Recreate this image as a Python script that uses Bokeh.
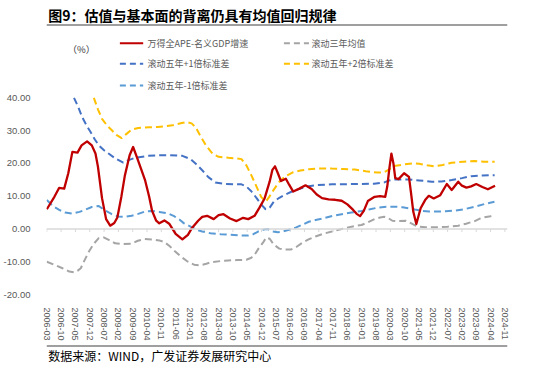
from bokeh.plotting import figure
from bokeh.layouts import column
from bokeh.models import (FixedTicker, NumeralTickFormatter, Span, ColumnDataSource, Range1d)
from bokeh.embed import file_html
from bokeh.resources import INLINE
from bokeh.core.properties import value

# ---------------- texts ----------------
title_text = "图9：估值与基本面的背离仍具有均值回归规律"
source_text = "数据来源：WIND，广发证券发展研究中心"
unit_text = "（%）"
series_names = ["万得全APE-名义GDP增速", "滚动三年均值", "滚动五年+1倍标准差",
                "滚动五年+2倍标准差", "滚动五年-1倍标准差"]
x_labels = ["2006-03", "2006-10", "2007-05", "2007-12", "2008-07", "2009-02", "2009-09",
            "2010-04", "2010-11", "2011-06", "2012-01", "2012-08", "2013-03", "2013-10",
            "2014-05", "2014-12", "2015-07", "2016-02", "2016-09", "2017-04", "2017-11",
            "2018-06", "2019-01", "2019-08", "2020-03", "2020-10", "2021-05", "2021-12",
            "2022-07", "2023-02", "2023-09", "2024-04", "2024-11"]
y_ticks = [-20, -10, 0, 10, 20, 30, 40]

# ---------------- data (x = months after 2006-03) ----------------
ape_m = [0, 3.7, 6, 8.5, 10.5, 12.5, 15, 17, 19.7, 22, 23.8, 25, 27, 29, 31, 33, 34.5, 36.5,
         38.2, 40.5, 42.2, 44, 46, 48, 50, 51.5, 53.5, 55, 57.5, 60, 63, 66.3, 69, 71, 74,
         76, 78.4, 81.6, 84, 86.4, 89.6, 92.8, 96, 98.5, 101.6, 104, 106.5, 109, 110.3,
         111.6, 113, 114.5, 116.9, 118.5, 120.5, 123.5, 126.5, 129.5, 132, 134.6, 137.8,
         141, 144.2, 147, 149.8, 151.5, 153.2, 155, 157, 160.3, 163, 165.5, 166.5, 167.5,
         168.5, 169.5, 170.4, 172, 174.7, 177.1, 178.3, 179.2, 180.7, 182.8, 185, 186.8,
         189.2, 192.4, 195.6, 198, 201.2, 203, 205.2, 207.5, 210, 213, 215.7, 219.2]
ape_v = [6.0, 9.8, 12.5, 12.3, 17.0, 23.5, 23.3, 25.5, 26.7, 25.5, 23.0, 19.0, 9.4, 3.0, 1.0,
         1.8, 3.5, 10.0, 16.4, 22.5, 25.0, 22.0, 18.5, 15.0, 10.0, 5.5, 2.5, 1.7, 2.6, 1.5,
         -1.5, -3.2, -1.8, 0.3, 2.5, 3.7, 4.0, 3.0, 4.2, 4.5, 3.2, 2.4, 3.4, 3.0, 4.0, 6.5,
         9.3, 14.5, 18.0, 19.1, 17.0, 14.6, 15.3, 13.5, 11.4, 12.3, 13.3, 12.2, 10.5, 9.4,
         9.0, 8.9, 8.6, 7.5, 5.8, 4.6, 3.9, 5.5, 8.5, 9.8, 10.0, 9.8, 13.0, 18.4, 23.0, 20.0,
         15.5, 15.2, 17.0, 15.9, 10.0, 5.3, 1.5, 6.3, 8.8, 10.1, 9.3, 10.3, 13.7, 11.9, 14.4,
         13.2, 12.6, 13.0, 13.7, 12.8, 12.1, 13.2]

mean3_m = [0, 4, 7.7, 11, 13.3, 15, 16.6, 18.5, 20.6, 23, 25.4, 27.8, 30.5, 33.4, 37, 41.4,
           44.5, 47.9, 52.7, 55, 57.5, 60, 62.5, 65.5, 68.5, 72, 75.1, 78, 80.8, 85, 88.8,
           93, 97.6, 100, 101.6, 103.5, 105.7, 107.3, 109, 111, 113.7, 116, 119.3, 122, 125,
           128, 131.4, 135, 139.4, 144.2, 149, 153.9, 157, 160.3, 163, 165, 167, 169, 172,
           175.5, 178, 180.3, 182.5, 185.2, 191.6, 196, 201.2, 205, 209.3, 212, 214.1, 217,
           219.2]
mean3_v = [-10.0, -11.0, -12.0, -13.0, -13.2, -12.8, -12.0, -9.5, -6.9, -4.5, -2.8, -2.6,
           -3.4, -4.4, -4.6, -4.5, -3.6, -3.1, -3.3, -3.5, -4.0, -5.2, -6.7, -8.4, -9.8,
           -10.9, -11.1, -10.6, -10.1, -9.8, -9.6, -9.5, -9.4, -8.8, -7.9, -6.0, -4.2, -2.6,
           -3.0, -4.8, -6.0, -6.3, -6.3, -5.5, -4.2, -3.2, -2.3, -1.5, -0.8, 0.0, 0.7, 1.2,
           2.0, 3.0, 3.5, 3.7, 3.3, 2.5, 2.4, 2.5, 1.8, 1.0, 0.7, 0.5, 0.5, 0.7, 1.0, 1.6,
           2.4, 3.2, 3.6, 3.9, 4.2]

up1_m = [13.3, 15.5, 17.3, 19.5, 21.4, 23.5, 25.4, 28, 30.2, 33.5, 37.4, 40, 43.1, 49.5, 55,
         60, 66.3, 70.3, 73, 76, 79, 82.4, 87.2, 95.2, 97.5, 100, 102.5, 104.8, 107, 109, 111,
         113.7, 116, 120.1, 124, 128.1, 132, 139.4, 150, 160, 165, 167.5, 170, 177.1, 182,
         188.3, 193, 198, 203, 207.6, 213, 219]
up1_v = [40.0, 37.0, 34.1, 31.5, 29.6, 27.3, 25.5, 24.0, 23.0, 21.5, 20.2, 21.0, 21.7, 22.3,
         22.5, 22.5, 22.3, 21.3, 19.8, 17.9, 15.8, 14.2, 13.7, 13.6, 13.0, 11.5, 9.5, 7.5, 6.0,
         6.5, 8.3, 9.5, 10.3, 11.5, 12.3, 13.0, 13.4, 13.6, 13.7, 13.8, 14.2, 14.8, 15.1, 15.1,
         14.8, 14.4, 14.5, 14.9, 15.5, 16.1, 16.3, 16.4]

up2_m = [23, 25, 27, 29.5, 31.8, 34, 36.6, 39, 41.5, 44.7, 50, 54.3, 61.5, 66, 68.7, 70.8,
         72.7, 75, 78, 81, 84, 88.8, 93, 95.2, 97.5, 100, 102.5, 104.8, 107, 108.7, 111, 113.7,
         116.5, 120.1, 124, 128.1, 133, 139.4, 145, 150.6, 156, 161.8, 165, 167.5, 169.8, 175,
         179.1, 182, 186, 189.2, 193, 198, 203.6, 209.3, 214, 219]
up2_v = [40.0, 36.5, 33.6, 31.5, 30.1, 28.7, 27.7, 29.0, 30.3, 30.8, 31.0, 31.1, 31.6, 32.3,
         32.6, 32.2, 31.1, 28.5, 25.3, 23.0, 22.0, 21.7, 21.5, 21.3, 19.5, 16.4, 13.0, 9.8, 8.3,
         9.7, 12.0, 14.4, 16.0, 17.2, 17.8, 18.2, 18.4, 18.4, 18.3, 18.1, 17.6, 17.2, 17.3, 18.2,
         19.2, 19.7, 20.0, 19.9, 19.4, 19.1, 19.4, 20.2, 20.5, 20.7, 20.5, 20.5]

dn1_m = [0, 3, 6.1, 9, 12.5, 16, 19, 22, 25.4, 28, 31.8, 35, 38.2, 41.5, 44.7, 48, 51.1, 55,
         59.1, 62, 65, 67.1, 70.3, 73.5, 76, 80, 85, 90, 95, 98.5, 101, 103.3, 106, 108, 110.5,
         113, 115.3, 118, 121.7, 125, 128.1, 132, 136.2, 140, 144.2, 149, 153.9, 158, 161.9,
         166, 170.7, 174, 177.1, 180, 183.5, 187, 190, 195, 199.6, 204, 209.3, 214, 218.9]
dn1_v = [8.8, 7.0, 5.8, 5.0, 4.7, 5.2, 5.9, 6.7, 7.0, 5.8, 4.5, 3.8, 3.7, 4.0, 4.6, 5.3, 5.5,
         5.2, 4.8, 4.0, 2.8, 1.7, 0.7, -0.3, -0.8, -1.3, -1.6, -1.8, -2.0, -2.0, -1.6, -0.8,
         -0.2, 0.0, -0.8, -1.0, -0.8, -0.3, 0.4, 1.3, 2.2, 2.8, 3.4, 4.0, 4.5, 5.0, 5.5, 6.0,
         6.5, 6.8, 6.8, 6.6, 6.3, 5.9, 5.5, 5.3, 5.3, 5.4, 5.6, 6.0, 6.8, 7.6, 8.3]

colors = ["#C00000", "#A5A5A5", "#4472C4", "#FFC000", "#5B9BD5"]

# ---------------- geometry ----------------
W = 534
HH, MH, FH = 92, 251, 22          # header / main / footer heights
BL, BR, BT, BB = 39, 27, 2, 49
XS = 2.076          # px per month
YS = 3.278          # px per percent
X0 = -0.15
Y0 = -20.0
fw, fh = W - BL - BR, MH - BT - BB


def month_index(s):
    yy, mm = s.split("-")
    return (int(yy) - 2006) * 12 + int(mm) - 3


x_ticks = [month_index(s) for s in x_labels]


def blank(h):
    f = figure(width=W, height=h, output_backend="svg", toolbar_location=None, title=None,
               x_range=Range1d(0, W), y_range=Range1d(h, 0),
               min_border=0, x_axis_type=None, y_axis_type=None)
    f.outline_line_color = None
    f.xgrid.visible = False
    f.ygrid.visible = False
    f.background_fill_color = "white"
    f.border_fill_color = "white"
    return f


# ---------------- header: title, rule, unit, legend ----------------
hdr = blank(HH)
hdr.text(x=[2], y=[14], text=[title_text], text_font=value("Noto Sans CJK SC"),
         text_font_style="bold", text_font_size="14px", text_color="#000000",
         text_baseline="middle", text_align="left")
hdr.add_layout(Span(location=24.5, dimension="width", line_color="#7F7F7F", line_width=1.3))
hdr.text(x=[40.5], y=[48], text=[unit_text], text_font=value("Noto Sans CJK SC"),
         text_font_size="9.5px", text_color="#404040", text_baseline="middle",
         text_align="center")

rows_y = [42.7, 63.3, 85.0]
cols = [(85, 112, 117), (275, 304, 307)]
slots = [(0, 0), (0, 1), (1, 0), (1, 1), (2, 0)]
tx, ty, tt = [], [], []
for i, (r, c) in enumerate(slots):
    x_a, x_b, x_t = cols[c]
    yy = rows_y[r]
    hdr.line([x_a, x_b], [yy, yy], line_color=colors[i], line_width=2,
             line_dash="solid" if i == 0 else "6 4")
    tx.append(x_t)
    ty.append(yy)
    tt.append(series_names[i])
hdr.text(x="x", y="y", text="t", source=ColumnDataSource(dict(x=tx, y=ty, t=tt)),
         text_font=value("Noto Sans CJK SC"), text_font_size="9px", text_color="#595959",
         text_baseline="middle", text_align="left")

# ---------------- main chart ----------------
p = figure(width=W, height=MH, output_backend="svg", toolbar_location=None, title=None,
           x_range=Range1d(X0, X0 + fw / XS), y_range=Range1d(Y0, Y0 + fh / YS),
           min_border_left=BL, min_border_right=BR, min_border_top=BT, min_border_bottom=BB)
p.outline_line_color = None
p.xgrid.visible = False
p.ygrid.visible = False
p.background_fill_color = "white"
p.border_fill_color = "white"

p.yaxis.ticker = FixedTicker(ticks=y_ticks)
p.yaxis.formatter = NumeralTickFormatter(format="0.00")
p.yaxis.axis_line_color = None
p.yaxis.major_tick_line_color = None
p.yaxis.minor_tick_line_color = None
p.yaxis.major_label_standoff = 10
p.yaxis.major_label_text_font = "Liberation Sans"
p.yaxis.major_label_text_font_size = "9.5px"
p.yaxis.major_label_text_color = "#595959"

p.xaxis.ticker = FixedTicker(ticks=x_ticks)
p.xaxis.major_label_overrides = {t: s for t, s in zip(x_ticks, x_labels)}
p.xaxis.major_label_orientation = "vertical"
p.xaxis.axis_line_color = None
p.xaxis.major_tick_line_color = None
p.xaxis.minor_tick_line_color = None
p.xaxis.major_label_standoff = 7
p.xaxis.major_label_text_font = "Liberation Sans"
p.xaxis.major_label_text_font_size = "9px"
p.xaxis.major_label_text_color = "#595959"

# zero axis line with tick marks
p.add_layout(Span(location=0, dimension="width", line_color="#D9D9D9", line_width=1.5))
p.segment(x0=x_ticks, y0=[0] * len(x_ticks), x1=x_ticks, y1=[-0.95] * len(x_ticks),
          line_color="#D9D9D9", line_width=1)

dash = "7 4"
p.line(mean3_m, mean3_v, line_color=colors[1], line_width=2, line_dash=dash)
p.line(dn1_m, dn1_v, line_color=colors[4], line_width=2, line_dash=dash)
p.line(up1_m, up1_v, line_color=colors[2], line_width=2, line_dash=dash)
p.line(up2_m, up2_v, line_color=colors[3], line_width=2, line_dash=dash)
p.line(ape_m, ape_v, line_color=colors[0], line_width=2.3, line_join="round")

# ---------------- footer: rule and source ----------------
ftr = blank(FH)
ftr.add_layout(Span(location=2.5, dimension="width", line_color="#7F7F7F", line_width=1.5))
ftr.text(x=[2], y=[12], text=[source_text], text_font=value("Noto Sans CJK SC"),
         text_font_size="12px", text_color="#000000", text_baseline="middle",
         text_align="left")

layout = column(hdr, p, ftr, spacing=0)
open("out.html", "w").write(file_html(layout, INLINE))
